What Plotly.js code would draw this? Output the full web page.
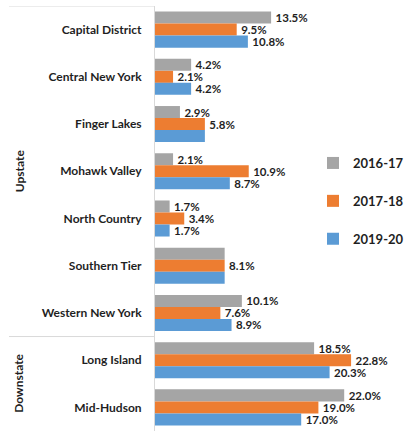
<!DOCTYPE html>
<html>
<head>
<meta charset="utf-8">
<script src="https://cdn.plot.ly/plotly-3.0.1.min.js"></script>
<style>html,body{margin:0;padding:0;background:#fff;}#chart{width:404px;height:431px;}</style>
</head>
<body>
<div id="chart"></div>
<script>
const regions = ["Capital District","Central New York","Finger Lakes","Mohawk Valley","North Country","Southern Tier","Western New York","Long Island","Mid-Hudson"];
const seriesNames = ["2016-17","2017-18","2019-20"];
const v2016 = [13.5, 4.2, 2.9, 2.1, 1.7, 8.1, 10.1, 18.5, 22.0];
const v2017 = [9.5, 2.1, 5.8, 10.9, 3.4, 8.1, 7.6, 22.8, 19.0];
const v2019 = [10.8, 4.2, 5.8, 8.7, 1.7, 8.1, 8.9, 20.3, 17.0];
const lbl2016 = ["13.5%","4.2%","2.9%","2.1%","1.7%","","10.1%","18.5%","22.0%"];
const lbl2017 = ["9.5%","2.1%","5.8%","10.9%","3.4%","8.1%","7.6%","22.8%","19.0%"];
const lbl2019 = ["10.8%","4.2%","","8.7%","1.7%","","8.9%","20.3%","17.0%"];
const groups = [{name:"Upstate", first:0, last:6},{name:"Downstate", first:7, last:8}];
const colors = ["#A5A5A5","#ED7D31","#5B9BD5"];

const vals = [v2016, v2017, v2019];
const lbls = [lbl2016, lbl2017, lbl2019];
const ink = "#1f1f1f";
const txtFont = {family:"Lato", size:11.5, color:ink, weight:"bold"};

const traces = seriesNames.map((n,i)=>({
  type:"bar", orientation:"h", name:n, y:regions, x:vals[i],
  marker:{color:colors[i]}, text:lbls[i], texttemplate:"\u2009%{text}", textposition:"outside",
  textfont:txtFont, cliponaxis:false, constraintext:"none",
  legendgroup:"g"+i, hoverinfo:"skip"
}));

const L = 155, R = 10, W = 404 - L - R;
const pxPerUnit = 8.6;
const px = p => (p - L) / W;

const annotations = groups.map(g=>({
  text:g.name, xref:"paper", yref:"y", x:px(19), y:(g.first+g.last)/2,
  textangle:-90, showarrow:false, xanchor:"center", yanchor:"middle",
  font:{family:"Lato", size:12, color:ink, weight:"bold"}
}));
const shapes = groups.map(g=>({
  type:"line", xref:"paper", yref:"y", x0:px(9), x1:0, y0:g.first-0.5, y1:g.first-0.5,
  line:{color:"#d9d9d9", width:1}
}));

const layout = {
  width:404, height:431, margin:{l:L, r:R, t:6, b:0, pad:0, autoexpand:false},
  paper_bgcolor:"#fff", plot_bgcolor:"#fff",
  barmode:"group", bargap:0.237, bargroupgap:0,
  xaxis:{range:[0, W/pxPerUnit], visible:false, fixedrange:true},
  yaxis:{range:[8.5,-0.5], showline:true, linecolor:"#d9d9d9", linewidth:1, automargin:false,
         showgrid:false, zeroline:false, ticks:"", ticklabelstandoff:10,
         tickfont:{family:"Lato", size:12, color:ink, weight:"bold"}},
  legend:{x:px(409), xanchor:"right", y:(431-201)/425, yanchor:"middle",
          font:{family:"Lato", size:13, color:ink, weight:"bold"},
          tracegroupgap:18, bgcolor:"rgba(0,0,0,0)"},
  annotations:annotations, shapes:shapes, showlegend:true
};
Plotly.newPlot("chart", traces, layout, {displayModeBar:false, staticPlot:true});
</script>
</body>
</html>
